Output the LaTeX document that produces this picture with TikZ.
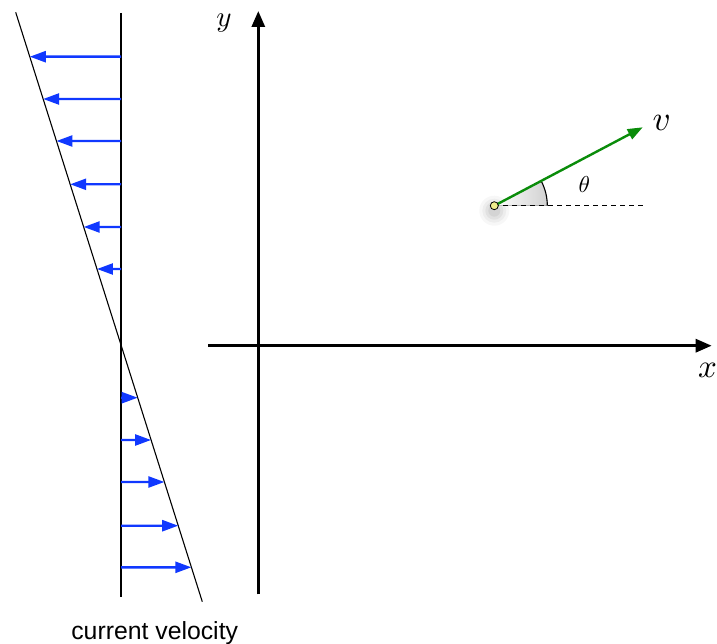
\documentclass[tikz,border=0pt]{standalone}
\usepackage{fontspec}
\newfontfamily\labelsans{Liberation Sans}
\usetikzlibrary{arrows.meta,calc}
\definecolor{flowblue}{RGB}{16,56,255}
\definecolor{velgreen}{RGB}{10,140,10}
\definecolor{dotyellow}{RGB}{238,236,140}
\begin{document}
\begin{tikzpicture}[x=1pt,y=-1pt,
  thinline/.style={line width=1.1pt},
  axisline/.style={line width=3pt,-{Triangle[length=16pt,width=13pt]}},
  flow/.style={draw=flowblue,line width=2.4pt,-{Triangle[length=16pt,width=11pt]}},
  vel/.style={draw=velgreen,line width=2.4pt,-{Triangle[length=15pt,width=11pt]}},
  mathlbl/.style={inner sep=0pt},
]
\useasboundingbox (0,0) rectangle (717,644);
% profile lines
\coordinate (vtop) at (121,13);
\coordinate (vbot) at (121,597);
\coordinate (stop) at (15.7,12.3);
\coordinate (sbot) at (202.3,601.7);
\draw[thinline] (vtop) -- (vbot);
\draw[thinline] (stop) -- (sbot);
\foreach \i/\y in {1/56.7,2/99,3/141,4/184.3,5/227,6/269,7/397.7,8/440,9/482,10/525.7,11/567.3}{
  \coordinate (a\i) at (121,\y);
  \coordinate (b\i) at ($(stop)!{(\y-12.3)/589.4}!(sbot)$);
  \draw[flow] (a\i) -- (b\i);
}
% axes
\coordinate (ybot) at (258.3,594.3);
\coordinate (ytop) at (258.3,11);
\coordinate (xl) at (208.3,345.7);
\coordinate (xr) at (711.7,345.7);
\draw[axisline] (ybot) -- (ytop);
\draw[axisline] (xl) -- (xr);
\node[mathlbl,scale=2.9] (ylab) at (224,23) {$y$};
\node[mathlbl,scale=3.3] (xlab) at (707.5,370) {$x$};
% velocity vector
\coordinate (P) at (494.3,205.7);
\coordinate (vtip) at (642.7,127.3);
\coordinate (dend) at (643.3,205.7);
\foreach \r/\o in {15/0.03,12/0.04,9/0.05,6/0.06}{
  \fill[black,opacity=\o] ($(P)+(0,5)$) circle[radius=\r];
}
\fill[left color=white,right color=black!18] (P) -- ++(53,0) arc[start angle=0,end angle=-27.8,radius=53] -- cycle;
\draw[line width=1.1pt] ($(P)+(53,0)$) arc[start angle=0,end angle=-27.8,radius=53];
\draw[line width=1pt,dash pattern=on 5pt off 4pt] (P) -- (dend);
\draw[vel] (P) -- (vtip);
\node[circle,draw,fill=dotyellow,inner sep=0pt,minimum size=8pt,line width=0.8pt] (dot) at (P) {};
\node[mathlbl,scale=3.5] (vlab) at (661.7,123.3) {$v$};
\node[mathlbl,scale=2.3] (thlab) at (584.3,184.3) {$\theta$};
% caption
\node[anchor=base,font=\labelsans\fontsize{24.8}{29}\selectfont,inner sep=0pt] (cap) at (154.7,639.3) {current velocity};
\end{tikzpicture}
\end{document}
